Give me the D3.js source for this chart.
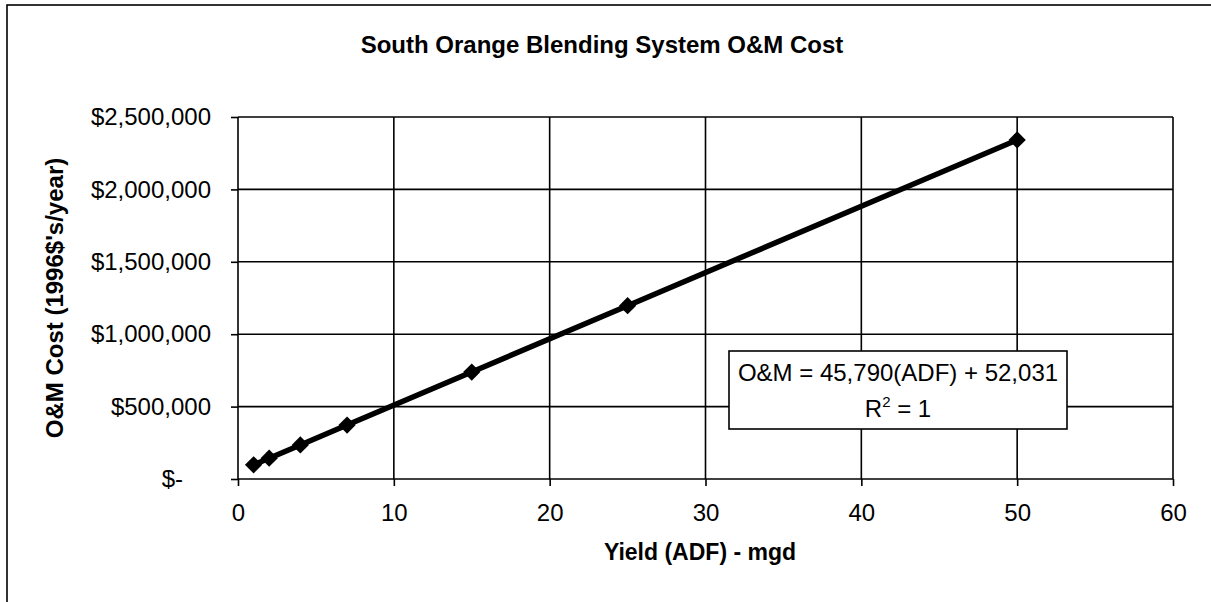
<!DOCTYPE html>
<html>
<head>
<meta charset="utf-8">
<script src="https://cdn.jsdelivr.net/npm/d3@7"></script>
<style>
  html, body { margin: 0; padding: 0; background: #fff; }
  svg { display: block; }
  text { font-family: "Liberation Sans", Arial, Helvetica, sans-serif; fill: #000; }
</style>
</head>
<body>
<div id="chart"></div>
<script>
// data
var yieldMgd = [1, 2, 4, 7, 15, 25, 50];
var omCost = [97800, 143600, 235200, 372600, 738900, 1196800, 2341500];
var xTicks = [0, 10, 20, 30, 40, 50, 60];
var yTicks = [0, 500000, 1000000, 1500000, 2000000, 2500000];
var equationLines = ['O&M = 45,790(ADF) + 52,031', 'R', '2', ' = 1'];

(function () {
  'use strict';

  var width = 1211, height = 602;
  var plot = { left: 238, right: 1173, top: 117, bottom: 479 };

  var svg = d3.select('#chart').append('svg')
    .attr('width', width)
    .attr('height', height);

  // outer chart frame (right/bottom edges run off the page in the scan)
  svg.append('rect')
    .attr('x', 7).attr('y', 5)
    .attr('width', 1230).attr('height', 640)
    .attr('fill', 'none')
    .attr('stroke', '#000')
    .attr('stroke-width', 1.6);

  var x = d3.scaleLinear().domain([0, 60]).range([plot.left, plot.right]);
  var y = d3.scaleLinear().domain([0, 2500000]).range([plot.bottom, plot.top]);

  // title
  svg.append('text')
    .attr('x', 602).attr('y', 53)
    .attr('text-anchor', 'middle')
    .attr('font-size', '24px')
    .attr('font-weight', 'bold')
    .text('South Orange Blending System O&M Cost');

  // grid
  var grid = svg.append('g').attr('stroke', '#000').attr('stroke-width', 1.6);
  grid.selectAll('line.h')
    .data(yTicks)
    .join('line')
    .attr('class', 'h')
    .attr('x1', plot.left).attr('x2', plot.right)
    .attr('y1', function (d) { return y(d); })
    .attr('y2', function (d) { return y(d); });
  grid.selectAll('line.v')
    .data(xTicks)
    .join('line')
    .attr('class', 'v')
    .attr('y1', plot.top).attr('y2', plot.bottom)
    .attr('x1', function (d) { return x(d); })
    .attr('x2', function (d) { return x(d); });

  // axes
  var money = d3.format(',');
  var yAxis = d3.axisLeft(y)
    .tickValues(yTicks)
    .tickSize(7)
    .tickPadding(20)
    .tickFormat(function (d) { return d === 0 ? '$-' : '$' + money(d); });
  var gy = svg.append('g')
    .attr('transform', 'translate(' + plot.left + ',0)')
    .call(yAxis);

  var xAxis = d3.axisBottom(x)
    .tickValues(xTicks)
    .tickSize(7)
    .tickPadding(18);
  var gx = svg.append('g')
    .attr('transform', 'translate(0,' + plot.bottom + ')')
    .call(xAxis);

  [gy, gx].forEach(function (g) {
    g.select('.domain').remove();
    g.selectAll('.tick line').attr('stroke', '#000').attr('stroke-width', 1.6);
    g.selectAll('.tick text')
      .attr('font-size', '24px')
      .attr('font-family', '"Liberation Sans", Arial, Helvetica, sans-serif')
      .attr('fill', '#000');
  });
  // "$-" sits left of the other labels (accounting format padding)
  gy.selectAll('.tick text').filter(function (d) { return d === 0; })
    .attr('dx', -28);

  // axis titles
  svg.append('text')
    .attr('transform', 'translate(54,' + (plot.top + plot.bottom) / 2 + ') rotate(-90)')
    .attr('text-anchor', 'middle')
    .attr('dominant-baseline', 'central')
    .attr('font-size', '24px')
    .attr('font-weight', 'bold')
    .text("O&M Cost (1996$'s/year)");

  svg.append('text')
    .attr('x', 700).attr('y', 560)
    .attr('text-anchor', 'middle')
    .attr('font-size', '23px')
    .attr('font-weight', 'bold')
    .text('Yield (ADF) - mgd');

  // series line + diamond markers
  var pts = yieldMgd.map(function (v, i) { return [v, omCost[i]]; });
  var line = d3.line()
    .x(function (d) { return x(d[0]); })
    .y(function (d) { return y(d[1]); });

  svg.append('path')
    .datum(pts)
    .attr('d', line)
    .attr('fill', 'none')
    .attr('stroke', '#000')
    .attr('stroke-width', 5.5)
    .attr('stroke-linejoin', 'round');

  svg.append('g')
    .selectAll('path')
    .data(pts)
    .join('path')
    .attr('d', d3.symbol().type(d3.symbolDiamond2).size(190))
    .attr('transform', function (d) {
      return 'translate(' + x(d[0]) + ',' + y(d[1]) + ')';
    })
    .attr('fill', '#000');

  // trendline equation box
  var box = svg.append('g');
  box.append('rect')
    .attr('x', 729).attr('y', 351)
    .attr('width', 338).attr('height', 78)
    .attr('fill', '#fff')
    .attr('stroke', '#000')
    .attr('stroke-width', 1.6);
  box.append('text')
    .attr('x', 898).attr('y', 381)
    .attr('text-anchor', 'middle')
    .attr('font-size', '24px')
    .text(equationLines[0]);
  var r2 = box.append('text')
    .attr('x', 898).attr('y', 417)
    .attr('text-anchor', 'middle')
    .attr('font-size', '24px');
  r2.append('tspan').text(equationLines[1]);
  r2.append('tspan').attr('dy', -10).attr('font-size', '15px').text(equationLines[2]);
  r2.append('tspan').attr('dy', 10).text(equationLines[3]);
})();
</script>
</body>
</html>
